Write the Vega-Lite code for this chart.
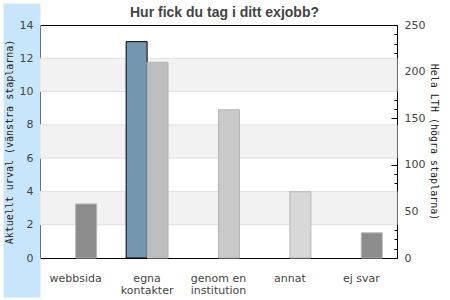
{
  "$schema": "https://vega.github.io/schema/vega-lite/v6.json",
  "width": 357,
  "height": 233,
  "autosize": "none",
  "padding": {"left": 40, "top": 25, "right": 53, "bottom": 42},
  "background": "white",
  "title": {"text": "Hur fick du tag i ditt exjobb?", "font": "Liberation Sans", "fontSize": 14, "fontWeight": "bold", "color": "#444", "offset": -17, "dx": 6},
  "config": {"view": {"stroke": "#000", "strokeWidth": 1}},
  "datasets": {
    "bands": [{"lo": 2, "hi": 4}, {"lo": 6, "hi": 8}, {"lo": 10, "hi": 12}],
    "bars": [
      {"kategori": "webbsida", "grupp": "Hela LTH", "antal": 58},
      {"kategori": "egna kontakter", "grupp": "Aktuellt urval", "antal": 13},
      {"kategori": "egna kontakter", "grupp": "Hela LTH", "antal": 210},
      {"kategori": "genom en institution", "grupp": "Hela LTH", "antal": 159},
      {"kategori": "annat", "grupp": "Hela LTH", "antal": 71},
      {"kategori": "ej svar", "grupp": "Hela LTH", "antal": 27}
    ]
  },
  "layer": [
    {
      "data": {"name": "bands"},
      "mark": {"type": "rect", "fill": "#f2f2f2", "stroke": "#e0e0e0", "strokeWidth": 1},
      "encoding": {
        "y": {
          "field": "lo", "type": "quantitative",
          "scale": {"domain": [0, 14], "nice": false},
          "axis": {
            "orient": "left", "zindex": 1,
            "title": "Aktuellt urval (vänstra staplarna)",
            "titleFont": "DejaVu Sans Mono", "titleFontSize": 10, "titleFontWeight": "normal", "titleColor": "#222",
            "titleX": -26,
            "values": [0, 2, 4, 6, 8, 10, 12, 14],
            "grid": false, "domain": false, "ticks": false, "tickSize": 0,
            "labelPadding": 7,
            "labelFont": "DejaVu Sans", "labelColor": "#444", "labelFontSize": 11
          }
        },
        "y2": {"field": "hi"}
      }
    },
    {
      "data": {"name": "bars"},
      "transform": [{"filter": "datum.grupp == 'Aktuellt urval'"}],
      "mark": {"type": "bar", "fill": "#7396b1", "stroke": "#000", "strokeWidth": 1},
      "encoding": {
        "x": {
          "field": "kategori", "type": "nominal",
          "sort": ["webbsida", "egna kontakter", "genom en institution", "annat", "ej svar"],
          "scale": {"domain": ["webbsida", "egna kontakter", "genom en institution", "annat", "ej svar"], "paddingInner": 0.413, "paddingOuter": 0.2065}
        },
        "xOffset": {"field": "grupp", "type": "nominal", "scale": {"domain": ["Aktuellt urval", "Hela LTH"], "paddingInner": 0, "paddingOuter": 0}},
        "y": {
          "field": "antal", "type": "quantitative",
          "scale": {"domain": [0, 14], "nice": false},
          "axis": {
            "orient": "left", "zindex": 0,
            "title": null, "labels": false, "grid": false, "domain": false,
            "values": [6.49],
            "ticks": true, "tickSize": 37, "tickCap": "butt", "tickWidth": 294, "tickColor": "#c8e6fb"
          }
        }
      }
    },
    {
      "data": {"name": "bars"},
      "transform": [{"filter": "datum.grupp == 'Hela LTH'"}],
      "mark": {"type": "bar", "stroke": "#b4b4b4", "strokeWidth": 1},
      "encoding": {
        "x": {
          "field": "kategori", "type": "nominal",
          "sort": ["webbsida", "egna kontakter", "genom en institution", "annat", "ej svar"],
          "scale": {"domain": ["webbsida", "egna kontakter", "genom en institution", "annat", "ej svar"], "paddingInner": 0.413, "paddingOuter": 0.2065},
          "axis": {
            "title": null, "labelAngle": 0, "labelAlign": "center", "labelBaseline": "top", "ticks": false, "domain": false,
            "labelFont": "DejaVu Sans", "labelFontSize": 11, "labelColor": "#444", "labelPadding": 14, "labelLineHeight": 12,
            "labelExpr": "datum.label == 'egna kontakter' ? ['egna', 'kontakter'] : datum.label == 'genom en institution' ? ['genom en', 'institution'] : datum.label"
          }
        },
        "xOffset": {"field": "grupp", "type": "nominal", "scale": {"domain": ["Aktuellt urval", "Hela LTH"], "paddingInner": 0, "paddingOuter": 0}},
        "y": {
          "field": "antal", "type": "quantitative",
          "scale": {"domain": [0, 250], "nice": false},
          "axis": {
            "orient": "right",
            "title": "Hela LTH (högra staplarna)",
            "titleFont": "DejaVu Sans Mono", "titleFontSize": 10, "titleFontWeight": "normal", "titleColor": "#222",
            "values": [0, 10, 20, 30, 40, 50, 60, 70, 80, 90, 100, 110, 120, 130, 140, 150, 160, 170, 180, 190, 200, 210, 220, 230, 240, 250],
            "labelExpr": "datum.value % 50 === 0 ? datum.label : ''",
            "labelOverlap": false,
            "grid": false, "domain": false,
            "tickColor": "#000", "tickSize": {"condition": {"test": "datum.value % 50 === 0", "value": -6}, "value": -3},
            "labelPadding": 13,
            "labelFont": "DejaVu Sans", "labelFontSize": 11, "labelColor": "#444"
          }
        },
        "color": {
          "field": "kategori", "type": "nominal",
          "scale": {"domain": ["webbsida", "egna kontakter", "genom en institution", "annat", "ej svar"], "range": ["#8c8c8c", "#bebebe", "#cacaca", "#d8d8d8", "#8c8c8c"]},
          "legend": null
        }
      }
    }
  ],
  "resolve": {"scale": {"y": "independent"}}
}
